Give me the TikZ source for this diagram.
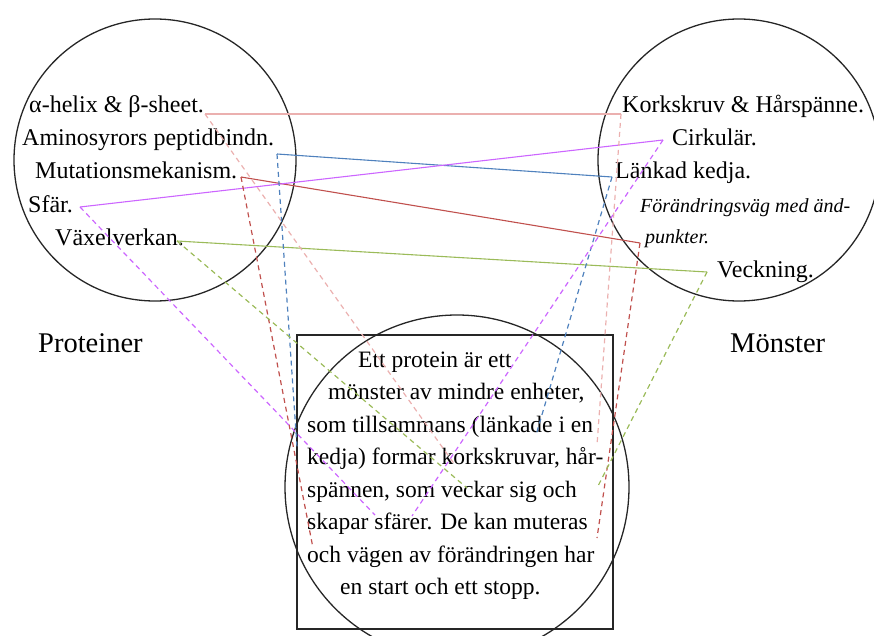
\documentclass[tikz,border=0pt]{standalone}
\usepackage{fontspec}
\setmainfont{Liberation Serif}
\definecolor{tiePink}{HTML}{EBB0AF}
\definecolor{tieBlue}{HTML}{4F81BD}
\definecolor{tieRed}{HTML}{C0504D}
\definecolor{tieViolet}{HTML}{CC66FF}
\definecolor{tieGreen}{HTML}{9BBB59}
\begin{document}
\begin{tikzpicture}[x=1pt,y=-1pt]
\useasboundingbox (0,0) rectangle (874,636);
\tikzset{
  ring/.style={draw=black!85, line width=1.3pt, circle, inner sep=0pt},
  frame/.style={draw=black!85, line width=1.3pt, inner sep=0pt},
  lbl/.style={anchor=base west, inner sep=0pt, font=\fontsize{24}{28}\selectfont},
  ital/.style={anchor=base west, inner sep=0pt, font=\fontsize{20}{24}\selectfont\itshape},
  body/.style={anchor=base west, inner sep=0pt, font=\fontsize{23.5}{28}\selectfont},
  head/.style={anchor=base west, inner sep=0pt, font=\fontsize{28.5}{34}\selectfont},
  tie/.style={line width=1.1pt},
  hint/.style={line width=1.2pt, dash pattern=on 5pt off 4pt},
}

% circles and the text frame
\node[ring, minimum size=282pt] (protC) at (155,160) {};
\node[ring, minimum size=282pt] (monC) at (739,160) {};
\node[frame, minimum width=316pt, minimum height=294pt] (box) at (455,482) {};
\node[ring, minimum size=344pt] (midC) at (457,487) {};

% headings
\node[head] (prot) at (38,352) {Proteiner};
\node[head] (mon) at (730,352) {Mönster};

% left terms
\node[lbl] (alpha) at (29,113) {α-helix \& β-sheet.};
\node[lbl] (amino) at (22,146) {Aminosyrors peptidbindn.};
\node[lbl] (mut) at (35,179) {Mutationsmekanism.};
\node[lbl] (sfar) at (28,212) {Sfär.};
\node[lbl] (vax) at (55,245) {Växelverkan.};

% right terms
\node[lbl] (kork) at (622,113) {Korkskruv \& Hårspänne.};
\node[lbl] (cirk) at (672,146) {Cirkulär.};
\node[lbl] (lank) at (615,179) {Länkad kedja.};
\node[ital] (forv) at (640,212) {Förändringsväg med änd-};
\node[ital] (punk) at (645,243) {punkter.};
\node[lbl] (veck) at (717,277) {Veckning.};

% body text
\node[body] (t1) at (358,367) {Ett protein är ett};
\node[body] (t2) at (328,399.5) {mönster av mindre enheter,};
\node[body] (t3) at (307,432) {som tillsammans (länkade i en};
\node[body] (t4) at (307,464.5) {kedja) formar korkskruvar, hår-};
\node[body] (t5) at (307,497) {spännen, som veckar sig och};
\node[body] (t6) at (307,529.5) {skapar sfärer. De kan muteras};
\node[body] (t7) at (307,562) {och vägen av förändringen har};
\node[body] (t8) at (340,594.5) {en start och ett stopp.};

% connector end points
\coordinate (pA) at (205,114);
\coordinate (pK) at (621,114);
\coordinate (bL) at (277,154);
\coordinate (bR) at (612,177);
\coordinate (rL) at (241,177);
\coordinate (rR) at (640,243);
\coordinate (vL) at (80,207);
\coordinate (vR) at (663,140);
\coordinate (gL) at (177,241);
\coordinate (gR) at (707,272);

\coordinate (pAe) at (455,465);
\coordinate (pKe) at (597,445);
\coordinate (bLe) at (297,447);
\coordinate (bRe) at (536,435);
\coordinate (rLe) at (313,548);
\coordinate (rRe) at (597,538);
\coordinate (vLe) at (375,515);
\coordinate (vRe) at (412,516);
\coordinate (gLe) at (467,488);
\coordinate (gRe) at (597,488);

% solid links between the two circles
\draw[tie, tiePink] (pA) -- (pK);
\draw[tie, tieBlue] (bL) -- (bR);
\draw[tie, tieRed] (rL) -- (rR);
\draw[tie, tieViolet] (vL) -- (vR);
\draw[tie, tieGreen] (gL) -- (gR);

% dashed links into the text
\draw[hint, tiePink] (pA) -- (pAe);
\draw[hint, tiePink] (pK) -- (pKe);
\draw[hint, tieBlue] (bL) -- (bLe);
\draw[hint, tieBlue] (bR) -- (bRe);
\draw[hint, tieRed] (rL) -- (rLe);
\draw[hint, tieRed] (rR) -- (rRe);
\draw[hint, tieViolet] (vL) -- (vLe);
\draw[hint, tieViolet] (vR) -- (vRe);
\draw[hint, tieGreen] (gL) -- (gLe);
\draw[hint, tieGreen] (gR) -- (gRe);
\end{tikzpicture}
\end{document}
